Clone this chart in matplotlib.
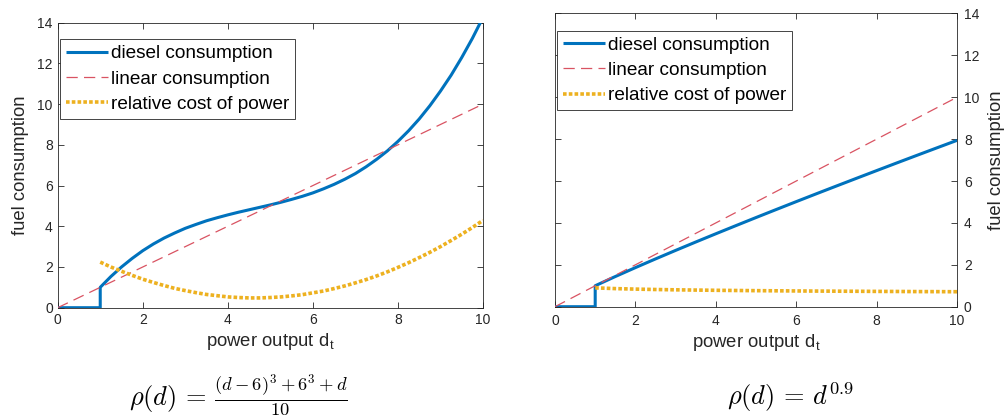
import matplotlib
matplotlib.use("Agg")
import matplotlib.pyplot as plt

plt.rcParams['font.family'] = ['Liberation Sans', 'DejaVu Sans']
plt.rcParams['mathtext.fontset'] = 'cm'

# ---------------- data ----------------
d_off = [0.0, 1.0]
off_vals = [0.0, 0.0]

# left panel: cubic consumption, sampled every 0.25
left_d = [1.00, 1.25, 1.50, 1.75, 2.00, 2.25, 2.50, 2.75, 3.00, 3.25,
          3.50, 3.75, 4.00, 4.25, 4.50, 4.75, 5.00, 5.25, 5.50, 5.75,
          6.00, 6.25, 6.50, 6.75, 7.00, 7.25, 7.50, 7.75, 8.00, 8.25,
          8.50, 8.75, 9.00, 9.25, 9.50, 9.75, 10.00]
left_diesel = [1.00, 1.53, 2.00, 2.42, 2.80, 3.13, 3.42, 3.67, 3.90, 4.09,
               4.27, 4.42, 4.56, 4.69, 4.81, 4.93, 5.05, 5.18, 5.32, 5.47,
               5.64, 5.84, 6.06, 6.31, 6.59, 6.92, 7.29, 7.70, 8.17, 8.69,
               9.27, 9.92, 10.64, 11.42, 12.29, 13.23, 14.26]
left_relcost = [2.24, 2.00, 1.79, 1.59, 1.40, 1.24, 1.09, 0.95, 0.84, 0.74,
                0.65, 0.59, 0.53, 0.50, 0.48, 0.48, 0.50, 0.53, 0.58, 0.64,
                0.73, 0.82, 0.94, 1.07, 1.22, 1.38, 1.56, 1.76, 1.98, 2.21,
                2.46, 2.72, 3.00, 3.30, 3.61, 3.94, 4.29]

# right panel: d^0.9 consumption, sampled every 0.5
right_d = [1.0, 1.5, 2.0, 2.5, 3.0, 3.5, 4.0, 4.5, 5.0, 5.5,
           6.0, 6.5, 7.0, 7.5, 8.0, 8.5, 9.0, 9.5, 10.0]
right_diesel = [1.000, 1.440, 1.866, 2.281, 2.688, 3.088, 3.482, 3.871, 4.257, 4.638,
                5.016, 5.391, 5.762, 6.131, 6.498, 6.863, 7.225, 7.585, 7.943]
right_relcost = [0.900, 0.864, 0.840, 0.821, 0.806, 0.794, 0.783, 0.774, 0.766, 0.759,
                 0.752, 0.746, 0.741, 0.736, 0.731, 0.727, 0.722, 0.719, 0.715]

linear_x = [0, 10]
linear_y = [0, 10]

xticks = [0, 2, 4, 6, 8, 10]
yticks = [0, 2, 4, 6, 8, 10, 12, 14]
labels = ['diesel consumption', 'linear consumption', 'relative cost of power']
captions = [r'$\rho(d)\,=\,\frac{(d-6)^3+6^3+d}{10}$', r'$\rho(d)\,=\,d^{0.9}$']

# ---------------- style ----------------
BLUE = '#0072BD'
RED = '#D95362'
YELLOW = '#EDB120'
AX = '#262626'

W, H = 1008, 419
fig = plt.figure(figsize=(W / 100, H / 100), dpi=100)


def fx(px):
    return px / W


def fy(py):
    return 1 - py / H


ax1 = fig.add_axes([fx(57.7), fy(307.7), fx(483 - 57.7), (307.7 - 22.7) / H])
ax2 = fig.add_axes([fx(555), fy(306.7), fx(957 - 555), (306.7 - 13.5) / H])

panels = [(ax1, left_d, left_diesel, left_relcost), (ax2, right_d, right_diesel, right_relcost)]
for ax, dd, diesel, rel in panels:
    ax.plot(d_off + dd, off_vals + diesel, color=BLUE, lw=2.2, solid_capstyle='butt',
            solid_joinstyle='round', label=labels[0], zorder=3)
    ax.plot(linear_x, linear_y, color=RED, lw=0.9, dashes=(9, 5), label=labels[1], zorder=4)
    ax.plot(dd, rel, color=YELLOW, lw=2.6, dashes=(1.0, 0.6), label=labels[2], zorder=5)
    ax.set_xlim(0, 10)
    ax.set_ylim(0, 14)
    ax.set_xticks(xticks)
    ax.set_yticks(yticks)
    ax.tick_params(direction='in', length=4, width=0.6, colors=AX, labelsize=10,
                   top=True, right=True, left=True, bottom=True)
    for s in ax.spines.values():
        s.set_color(AX)
        s.set_linewidth(0.6)
    ax.set_xlabel(r'power output d$_\mathregular{t}$', fontsize=13.3, color=AX, labelpad=3)

ax1.set_ylabel('fuel consumption', fontsize=13.3, color=AX, labelpad=6)
ax2.yaxis.tick_right()
ax2.tick_params(left=True, right=True, labelleft=False, labelright=True, pad=5)
ax2.yaxis.set_label_position('right')
ax2.set_ylabel('fuel consumption', fontsize=13.3, color=AX, labelpad=6)

legend_pos = [(fx(60), fy(39.3)), (fx(557), fy(30.7))]
for ax, pos in zip([ax1, ax2], legend_pos):
    leg = ax.legend(loc='upper left', bbox_to_anchor=pos, bbox_transform=fig.transFigure,
                    borderaxespad=0, fontsize=13.7, handlelength=2.2, handletextpad=0.2,
                    labelspacing=0.42, borderpad=0.3, fancybox=False, framealpha=1,
                    edgecolor=AX)
    leg.get_frame().set_linewidth(0.6)

fig.text(fx(238), fy(405), captions[0], fontsize=19, ha='center', va='baseline')
fig.text(fx(790), fy(405), captions[1], fontsize=19, ha='center', va='baseline')

fig.savefig('out.png', dpi=100)
